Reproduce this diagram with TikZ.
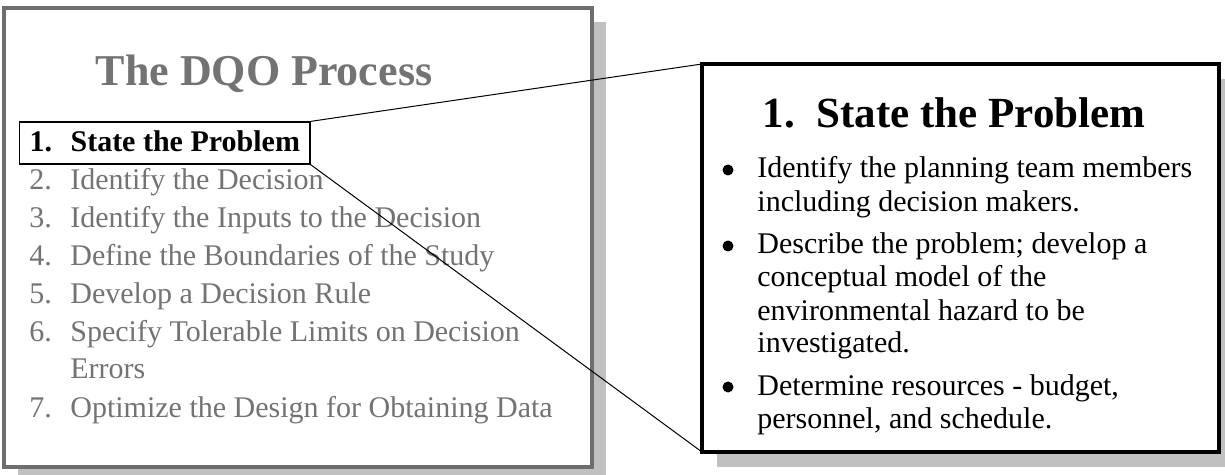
\documentclass[tikz,border=0pt]{standalone}
\usepackage{fontspec}
\setmainfont{Liberation Serif}
\usepackage{tikz}
\usetikzlibrary{positioning}
\definecolor{slidegray}{HTML}{737373}
\definecolor{framegray}{HTML}{6E6E6E}
\definecolor{shadowgray}{HTML}{C0C0C0}
\tikzstyle{slideframe} = [rectangle, draw=framegray, line width=1.75pt, fill=white, inner sep=0pt, outer sep=0pt, anchor=north west]
\tikzstyle{detailframe} = [rectangle, draw=black, line width=2.25pt, fill=white, inner sep=0pt, outer sep=0pt, anchor=north west]
\tikzstyle{bigtitle} = [font=\fontsize{22}{26}\selectfont\bfseries, inner sep=0pt, anchor=base]
\tikzstyle{listitem} = [font=\fontsize{15}{18}\selectfont, text=slidegray, inner sep=0pt, anchor=base west]
\tikzstyle{currentitem} = [font=\fontsize{15}{18}\selectfont\bfseries, draw=black, line width=0.6pt, inner xsep=5pt, inner ysep=0pt, text height=15pt, text depth=6pt, anchor=base west]
\tikzstyle{bulletline} = [font=\fontsize{15}{18}\selectfont, inner sep=0pt, anchor=base west]
\tikzstyle{dot} = [circle, fill=black, inner sep=0pt, minimum size=5.5pt]
\tikzstyle{link} = [line width=0.5pt, black]
\newcommand{\num}[1]{\makebox[20.5pt][l]{#1}}

\begin{document}
\begin{tikzpicture}[x=0.5pt, y=-0.5pt]
\useasboundingbox (0,0) rectangle (1225,475);
% shadows
\fill [shadowgray] (18,22) rectangle (606,481);
\fill [shadowgray] (717,79) rectangle (1234,467);

% the slide
\node (slide) [slideframe, minimum width=294pt, minimum height=229.5pt] at (4,8) {};
\node (slideTitle) [bigtitle, text=slidegray] at (264,86) {The DQO Process};
\node (stepOne) [currentitem] at (19,152) {\num{1.}State the Problem};
\node (decision) [listitem] at (29,190) {\num{2.}Identify the Decision};
\node (inputs) [listitem] at (29,228) {\num{3.}Identify the Inputs to the Decision};
\node (boundaries) [listitem] at (29,266) {\num{4.}Define the Boundaries of the Study};
\node (rule) [listitem] at (29,304) {\num{5.}Develop a Decision Rule};
\node (limits) [listitem] at (29,342) {\num{6.}Specify Tolerable Limits on Decision};
\node (limitsB) [listitem] at (70,379) {Errors};
\node (design) [listitem] at (29,417) {\num{7.}Optimize the Design for Obtaining Data};

% the detail box
\node (detail) [detailframe, minimum width=258.5pt, minimum height=194pt] at (702,64) {};
\node (detailTitle) [bigtitle, font=\fontsize{21.5}{26}\selectfont\bfseries] at (954,128) {1.\hspace{0.5em}State the Problem};

\node (dotA) [dot] at (728,170) {};
\node (team) [bulletline] at (757,178) {Identify the planning team members};
\node (teamB) [bulletline] at (757,212) {including decision makers.};
\node (dotB) [dot] at (728,246) {};
\node (problem) [bulletline] at (757,254) {Describe the problem; develop a};
\node (problemB) [bulletline] at (757,287) {conceptual model of the};
\node (problemC) [bulletline] at (757,321) {environmental hazard to be};
\node (problemD) [bulletline] at (757,353) {investigated.};
\node (dotC) [dot] at (728,387) {};
\node (resources) [bulletline] at (757,395) {Determine resources - budget,};
\node (resourcesB) [bulletline] at (757,428) {personnel, and schedule.};

\draw [link] (stepOne.north east) -- (detail.north west);
\draw [link] (stepOne.south east) -- (detail.south west);
\end{tikzpicture}
\end{document}
